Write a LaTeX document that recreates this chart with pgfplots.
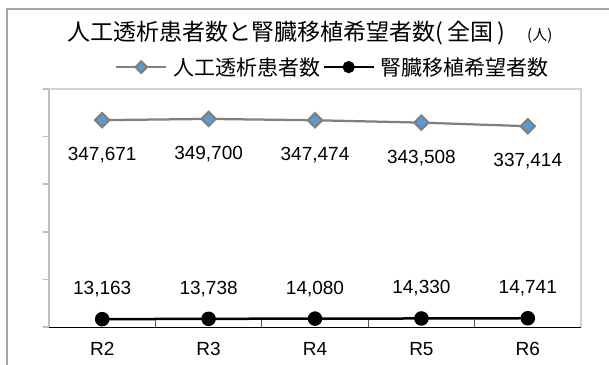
\documentclass[border=0pt]{standalone}
\usepackage{fontspec}
\setmainfont{Liberation Sans}
\newfontfamily\jp{Noto Sans CJK JP}
\usepackage{pgfplots}
\pgfplotsset{compat=1.18}
\definecolor{frmgray}{RGB}{165,165,165}
\definecolor{axgray}{RGB}{191,191,191}
\definecolor{boxgray}{RGB}{210,210,210}
\definecolor{tickdark}{RGB}{89,89,89}
\definecolor{ser1line}{RGB}{128,128,128}
\definecolor{ser1mark}{RGB}{91,155,213}
\begin{document}
\begin{tikzpicture}
\useasboundingbox (-49bp,-38bp) rectangle (560bp,327bp);
\draw[draw=frmgray, line width=1.5bp] (-42bp,-45bp) -- (-42bp,318bp) -- (570bp,318bp);
\begin{axis}[
  scale only axis,
  width=532bp, height=238bp,
  xmin=-0.5, xmax=4.5,
  ymin=0, ymax=400000,
  clip=false,
  scaled y ticks=false,
  axis lines*=left,
  x axis line style={black, line width=1bp},
  y axis line style={draw=axgray, line width=2bp},
  xtick={0,1,2,3,4},
  xticklabels={R2,R3,R4,R5,R6},
  minor xtick={-0.5,0.5,1.5,2.5,3.5,4.5},
  major x tick style={draw=none},
  minor x tick style={draw=tickdark, line width=0.8bp},
  minor tick length=7bp,
  ytick={0,80000,160000,240000,320000,400000},
  yticklabel=\empty,
  major tick length=6bp,
  major y tick style={draw=axgray, line width=1.5bp, xshift=-6bp},
  tick pos=left,
  tick align=inside,
  xticklabel style={font=\fontsize{19bp}{22bp}\selectfont, yshift=-12bp},
  /pgf/number format/fixed,
  /pgf/number format/precision=0,
  /pgf/number format/1000 sep={,},
  /pgf/number format/assume math mode=true,
  every axis title shift=0pt,
  title={{\jp\fontsize{23bp}{26bp}\selectfont 人工透析患者数と腎臓移植希望者数(\hspace{4bp}全国\hspace{4bp})\hspace{22bp}{\fontsize{15bp}{18bp}\selectfont (人)}}},
  title style={at={(axis description cs:0.4906,1.2353)}, anchor=center, inner sep=0pt},
  legend columns=2,
  legend style={at={(axis description cs:0.534,1.092)}, anchor=center, draw=none, fill=none,
    font=\jp\fontsize{21bp}{24bp}\selectfont,
    /tikz/every odd column/.append style={column sep=4bp}},
  legend image code/.code={\draw[mark repeat=2,mark phase=2,#1,every mark/.append style={scale=0.8}] plot coordinates {(0bp,0bp)(25bp,0bp)(50bp,0bp)};},
]
\addplot[color=ser1line, line width=2.25bp, mark=square*, mark size=5bp,
  mark options={rotate=45, fill=ser1mark, draw=none},
  nodes near coords,
  every node near coord/.append style={anchor=center, yshift=-35bp, font=\fontsize{19bp}{22bp}\selectfont, text=black}]
  coordinates {(0,347671)(1,349700)(2,347474)(3,343508)(4,337414)};
\addlegendentry{人工透析患者数}
\addplot[color=black, line width=2.5bp, mark=*, mark size=6bp,
  mark options={fill=black, draw=none},
  nodes near coords,
  every node near coord/.append style={anchor=center, yshift=30bp, font=\fontsize{19bp}{22bp}\selectfont, text=black}]
  coordinates {(0,13163)(1,13738)(2,14080)(3,14330)(4,14741)};
\addlegendentry{腎臓移植希望者数}
\draw[boxgray, line width=1.2bp] (rel axis cs:0,1) -- (rel axis cs:1,1) -- (rel axis cs:1,0);
\end{axis}
\end{tikzpicture}
\end{document}
